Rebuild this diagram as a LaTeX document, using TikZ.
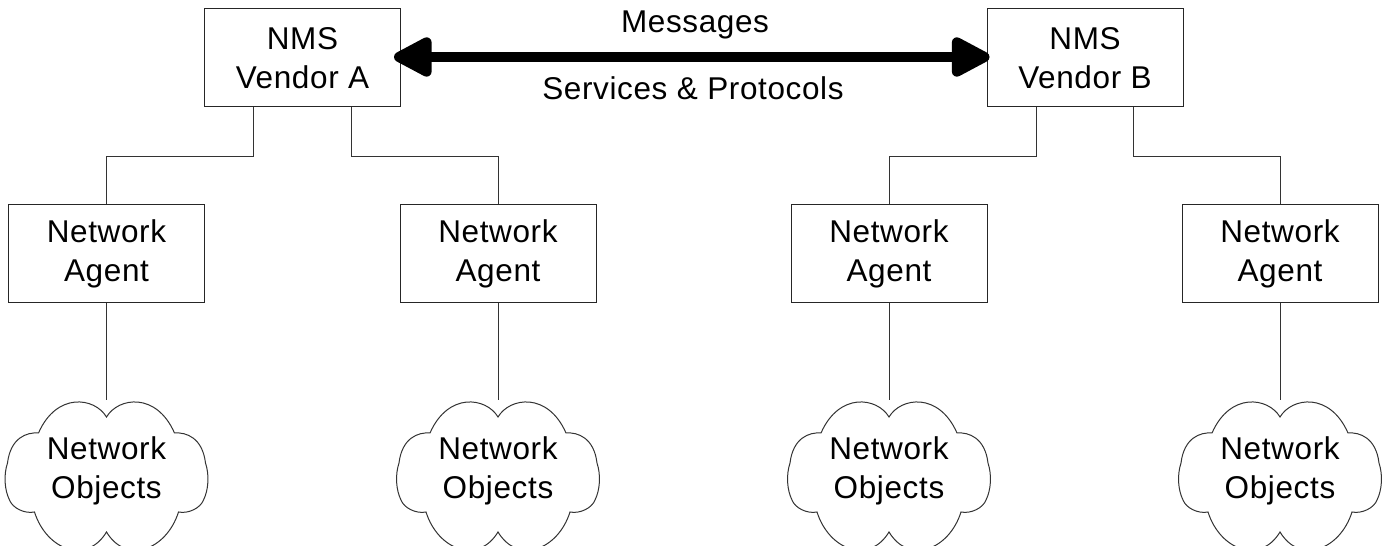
\documentclass[tikz,border=0pt]{standalone}
\usepackage{fontspec}
\setmainfont{Liberation Sans}[LetterSpace=2]
\usetikzlibrary{arrows.meta}
\newcommand\mycloud{%
  (0,54) .. controls (-12,74) and (-50,79) .. (-68,38)
  .. controls (-80,39) and (-96,33) .. (-99,8)
  .. controls (-103,-4) and (-102,-19) .. (-97,-29)
  .. controls (-94,-37) and (-82,-43) .. (-72,-41)
  .. controls (-60,-79) and (-20,-94) .. (0,-61)
  .. controls (20,-94) and (60,-79) .. (72,-41)
  .. controls (82,-43) and (94,-37) .. (97,-29)
  .. controls (102,-19) and (103,-4) .. (99,8)
  .. controls (96,33) and (80,39) .. (68,38)
  .. controls (50,79) and (12,74) .. (0,54) -- cycle}
\begin{document}
\begin{tikzpicture}[x=1pt,y=1pt,
  every node/.style={font=\fontsize{31.5}{38.5}\selectfont, align=center, text=black},
  box/.style={draw=black!85, line width=1pt, minimum width=196pt, minimum height=98pt, inner sep=0pt},
  wire/.style={draw=black!80, line width=1pt},
  cloudtext/.style={inner sep=0pt},
  big/.style={line width=10pt, {Triangle[length=44pt,width=43pt,round]}-{Triangle[length=44pt,width=43pt,round]}}
]
\useasboundingbox (0,0) rectangle (1384,546);
\clip (0,0) rectangle (1384,546);
% top boxes
\node[box] (A) at (302.5,488) {NMS\\Vendor A};
\node[box] (B) at (1085,488) {NMS\\Vendor B};
% agents
\node[box] (N1) at (106.5,292) {Network\\Agent};
\node[box] (N2) at (498,292) {Network\\Agent};
\node[box] (N3) at (889,292) {Network\\Agent};
\node[box] (N4) at (1280,292) {Network\\Agent};
% clouds
\node[cloudtext] (O1) at (106.5,75) {Network\\Objects};
\node[cloudtext] (O2) at (498,75) {Network\\Objects};
\node[cloudtext] (O3) at (889,75) {Network\\Objects};
\node[cloudtext] (O4) at (1280,75) {Network\\Objects};
\foreach \o in {O1,O2,O3,O4}{
  \begin{scope}[shift={(\o.center)}]
    \draw[wire] \mycloud;
  \end{scope}
}
\coordinate (t1) at (106.5,146);
\coordinate (t2) at (498,146);
\coordinate (t3) at (889,146);
\coordinate (t4) at (1280,146);
% labels
\node[anchor=base] (msg) at (695,513) {Messages};
\node[anchor=base] (svc) at (693,446) {Services \& Protocols};
% big arrow
\draw[big] ([shift={(-7,1)}]A.east) -- ([shift={(3,1)}]B.west);
% tree connectors
\draw[wire] ([xshift=-49.5pt]A.south) -- ++(0,-49) -| (N1.north);
\draw[wire] ([xshift=48.5pt]A.south) -- ++(0,-49) -| (N2.north);
\draw[wire] ([xshift=-49pt]B.south) -- ++(0,-49) -| (N3.north);
\draw[wire] ([xshift=48pt]B.south) -- ++(0,-49) -| (N4.north);
\draw[wire] (N1.south) -- (t1);
\draw[wire] (N2.south) -- (t2);
\draw[wire] (N3.south) -- (t3);
\draw[wire] (N4.south) -- (t4);
\end{tikzpicture}
\end{document}
